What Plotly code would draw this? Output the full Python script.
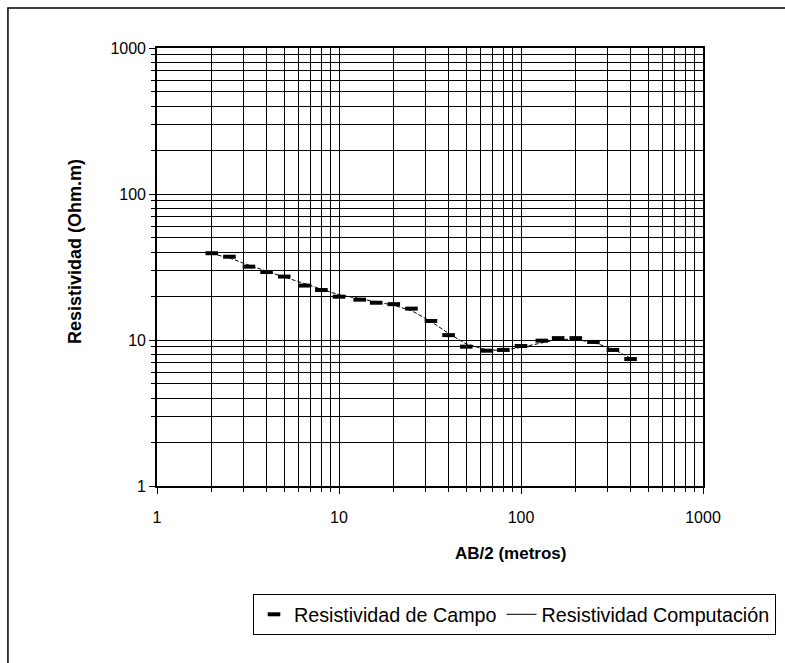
import plotly.graph_objects as go

# AB/2 spacing (m)
ab2 = [2, 2.5, 3.2, 4, 5, 6.5, 8, 10, 13, 16, 20, 25,
       32, 40, 50, 65, 80, 100, 130, 160, 200, 250, 320, 400]

# Apparent resistivity measured in the field (Ohm.m)
rho_campo = [39.3, 37.2, 31.8, 29.2, 27.2, 23.6, 22.0, 19.8, 18.9, 18.0, 17.6, 16.4,
             13.5, 10.8, 9.0, 8.45, 8.55, 9.1, 9.9, 10.3, 10.3, 9.7, 8.55, 7.4]

# Apparent resistivity from the computed model (Ohm.m)
rho_comp = [39.0, 36.5, 32.5, 29.5, 27.0, 24.3, 22.4, 20.4, 19.2, 18.3, 17.3, 15.9,
            13.4, 11.1, 9.4, 8.55, 8.5, 8.9, 9.6, 10.1, 10.1, 9.6, 8.7, 7.5]

major_ticks = [1, 10, 100, 1000]
tick_text = ["1", "10", "100", "1000"]
minor_ticks = [m * d for d in (1, 10, 100) for m in range(2, 10)]

FONT = "Arial, Liberation Sans, sans-serif"

fig = go.Figure()

# computed curve (thin broken line in the plot area)
fig.add_trace(go.Scatter(
    x=ab2, y=rho_comp, mode="lines",
    line=dict(color="black", width=1, dash="4px,2px"),
    showlegend=False,
))

# field measurements drawn as short horizontal dashes
fig.add_trace(go.Scatter(
    x=ab2, y=rho_campo, mode="markers",
    name="Resistividad de Campo",
    marker=dict(symbol="line-ew", size=9, color="black",
                line=dict(color="black", width=4)),
))

# legend entry for the computed curve
fig.add_trace(go.Scatter(
    x=[None], y=[None], mode="lines",
    name="Resistividad Computación",
    line=dict(color="black", width=1),
))

axis_common = dict(
    type="log",
    tickmode="array",
    showgrid=True, gridcolor="black", gridwidth=1.4,
    showline=True, linecolor="black", linewidth=1.6, mirror=True,
    ticks="outside", ticklen=6, tickcolor="black", tickwidth=1,
    tickfont=dict(family=FONT, size=16, color="black"),
    zeroline=False,
    minor=dict(tickmode="array", tickvals=minor_ticks, showgrid=True,
               gridcolor="black", gridwidth=1.4,
               ticks="outside", ticklen=4, tickcolor="black"),
)

fig.update_xaxes(range=[0, 3], tickvals=major_ticks, ticktext=tick_text,
                 ticklabelstandoff=10, automargin=False, **axis_common)
fig.update_yaxes(range=[0, 3], tickvals=major_ticks, ticktext=tick_text,
                 automargin=False, **axis_common)

# axis titles
fig.add_annotation(text="<b>AB/2 (metros)</b>", xref="paper", yref="paper",
                   x=(510 - 157) / 546, y=(486 - 553) / 438,
                   xanchor="center", yanchor="middle", showarrow=False,
                   font=dict(family=FONT, size=17, color="black"))
fig.add_annotation(text="<b>Resistividad (Ohm.m)</b>", xref="paper", yref="paper",
                   x=(75 - 157) / 546, y=(486 - 252) / 438, textangle=-90,
                   xanchor="center", yanchor="middle", showarrow=False,
                   font=dict(family=FONT, size=18, color="black"))

# outer chart frame
fig.add_shape(type="rect", xref="paper", yref="paper",
              x0=-0.273, y0=-0.5, x1=1.3, y1=1.0913,
              line=dict(color="black", width=1.5), fillcolor="rgba(0,0,0,0)",
              layer="below")

fig.update_layout(
    width=785, height=663,
    margin=dict(l=157, r=82, t=48, b=177, autoexpand=False),
    paper_bgcolor="white", plot_bgcolor="white",
    font=dict(family=FONT, color="black"),
    legend=dict(
        orientation="h", x=(253 - 157) / 546, y=(486 - 594) / 438,
        xanchor="left", yanchor="top",
        bordercolor="black", borderwidth=1, bgcolor="white",
        font=dict(family=FONT, size=19.7, color="black"),
        itemwidth=30, traceorder="normal",
    ),
)

fig.write_html("out.html")
